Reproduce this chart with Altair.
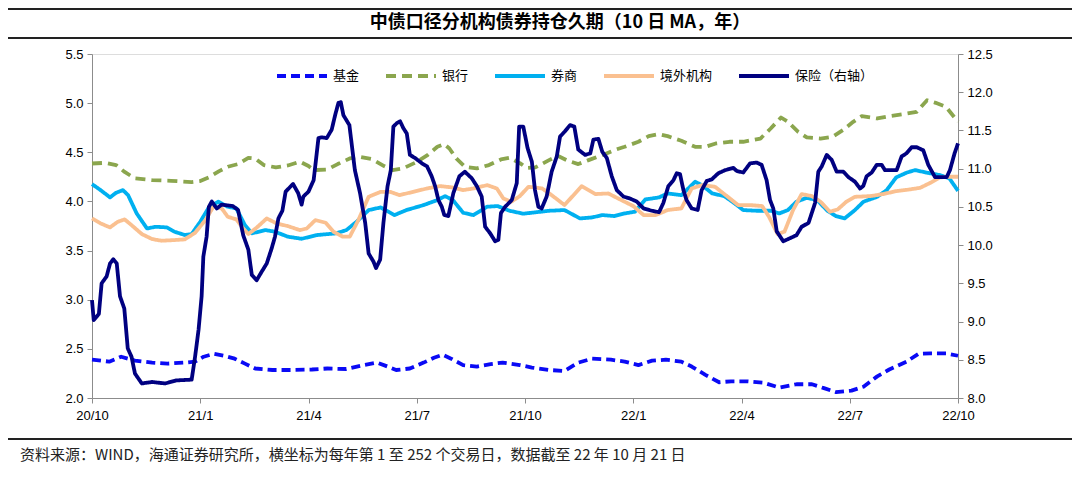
import altair as alt
import pandas as pd

# ---------------- data (x = trading-day index, 0 = 20/10 ... 504 = 22/10) ----------------
X_TICKS = [0, 63, 126, 189, 252, 315, 378, 441, 504]
X_LABELS = ["20/10", "21/1", "21/4", "21/7", "21/10", "22/1", "22/4", "22/7", "22/10"]

SERIES = ["基金", "银行", "券商", "境外机构", "保险（右轴）"]
COLORS = ["#0A0AF5", "#8BA64E", "#00B0F0", "#FAC090", "#000080"]

FUND_DAY = [0, 10, 17, 25, 35, 44, 54, 60, 65, 71, 77, 83, 89, 95, 105, 116, 128, 137, 148, 158,
            166, 172, 177, 185, 193, 199, 204, 209, 216, 224, 232, 239, 249, 256, 266, 275, 283,
            291, 302, 310, 318, 326, 334, 343, 349, 357, 365, 372, 381, 391, 400, 410, 419, 426,
            433, 442, 449, 457, 464, 474, 481, 488, 497, 504]
FUND_VAL = [2.39, 2.37, 2.42, 2.38, 2.36, 2.35, 2.36, 2.37, 2.42, 2.45, 2.43, 2.40, 2.35, 2.30,
            2.285, 2.285, 2.29, 2.30, 2.295, 2.335, 2.36, 2.32, 2.285, 2.30, 2.36, 2.41, 2.44,
            2.40, 2.335, 2.32, 2.345, 2.36, 2.335, 2.31, 2.285, 2.275, 2.36, 2.40, 2.39, 2.37,
            2.335, 2.38, 2.39, 2.37, 2.32, 2.235, 2.16, 2.17, 2.17, 2.155, 2.105, 2.14, 2.14,
            2.10, 2.06, 2.075, 2.115, 2.22, 2.29, 2.37, 2.45, 2.455, 2.455, 2.43]

BANK_DAY = [0, 8, 14, 19, 25, 35, 46, 58, 63, 68, 74, 79, 85, 91, 95, 100, 107, 114, 121, 126,
            129, 137, 143, 150, 156, 163, 170, 175, 181, 188, 195, 201, 205, 208, 212, 217, 224,
            231, 238, 243, 249, 253, 258, 266, 271, 277, 283, 289, 297, 304, 310, 318, 324, 330,
            335, 343, 351, 357, 363, 371, 379, 389, 395, 401, 405, 411, 416, 424, 431, 437, 443,
            448, 457, 464, 472, 480, 486, 491, 497, 504]
BANK_VAL = [4.386, 4.393, 4.37, 4.30, 4.234, 4.217, 4.21, 4.197, 4.207, 4.244, 4.308, 4.353,
            4.38, 4.444, 4.437, 4.37, 4.346, 4.366, 4.405, 4.36, 4.319, 4.325, 4.38, 4.437,
            4.454, 4.43, 4.36, 4.319, 4.336, 4.393, 4.468, 4.556, 4.583, 4.539, 4.437, 4.353,
            4.336, 4.37, 4.427, 4.444, 4.39, 4.34, 4.346, 4.42, 4.464, 4.414, 4.38, 4.42, 4.471,
            4.522, 4.556, 4.607, 4.664, 4.685, 4.664, 4.617, 4.556, 4.556, 4.59, 4.607, 4.607,
            4.64, 4.742, 4.854, 4.81, 4.708, 4.651, 4.64, 4.658, 4.725, 4.81, 4.868, 4.844,
            4.868, 4.888, 4.912, 5.03, 5.003, 4.963, 4.81]

BROKER_DAY = [0, 5, 10.5, 14, 18, 21, 26, 32, 37, 43.5, 48, 54, 58, 63, 68, 73.5, 79, 84, 89, 93,
              101, 106.5, 114, 122, 131, 142, 148, 154, 161, 168, 176, 183, 193, 201, 205.5, 210,
              216, 222, 230, 236, 243, 251, 256, 266, 275, 284, 291, 297, 304, 310, 316, 322,
              330, 335, 343, 351, 355, 361, 368, 374, 379, 387, 395, 400, 405, 410, 416, 422,
              428, 433, 438, 444, 449, 457, 462.5, 468, 474, 479, 486, 493.5, 499, 504]
BROKER_VAL = [4.176, 4.115, 4.041, 4.088, 4.115, 4.064, 3.878, 3.725, 3.742, 3.736, 3.692,
              3.658, 3.668, 3.793, 3.939, 3.997, 3.946, 3.929, 3.759, 3.675, 3.708, 3.692,
              3.641, 3.62, 3.658, 3.675, 3.708, 3.793, 3.912, 3.939, 3.861, 3.912, 3.963, 4.014,
              4.054, 4.014, 3.885, 3.861, 3.946, 3.953, 3.905, 3.875, 3.885, 3.905, 3.912, 3.827,
              3.837, 3.861, 3.851, 3.878, 3.895, 4.02, 4.041, 4.081, 4.064, 4.2, 4.166, 4.081,
              4.054, 3.98, 3.912, 3.905, 3.905, 3.878, 3.912, 3.997, 4.037, 4.014, 3.905, 3.851,
              3.827, 3.912, 3.997, 4.047, 4.115, 4.244, 4.292, 4.319, 4.292, 4.268, 4.234, 4.108]

FOREIGN_DAY = [0, 5, 10.5, 15, 19, 23, 29, 35, 40.5, 48, 54, 60, 66, 70.6, 75.5, 79, 84, 88, 91,
               96, 101.7, 107.5, 114, 121, 125, 130, 136, 140.5, 146, 150, 155, 161, 168, 173.5,
               179, 187, 195, 202.6, 210, 216, 222, 230, 235.6, 239.4, 244, 249, 254, 262,
               267.5, 275, 285, 293, 300.5, 308, 315, 321, 328, 335, 343, 349, 355, 362.6, 370,
               376, 383, 390, 394, 399, 403, 408, 413, 419, 424, 429.5, 434, 439, 444, 453,
               460.5, 468, 476, 482, 488, 493.5, 499, 504]
FOREIGN_VAL = [3.827, 3.776, 3.736, 3.793, 3.817, 3.759, 3.668, 3.617, 3.60, 3.607, 3.614,
               3.681, 3.81, 3.946, 3.929, 3.844, 3.817, 3.725, 3.668, 3.736, 3.827, 3.776,
               3.749, 3.708, 3.725, 3.81, 3.783, 3.692, 3.641, 3.641, 3.81, 4.047, 4.098, 4.098,
               4.064, 4.098, 4.132, 4.156, 4.142, 4.115, 4.132, 4.166, 4.132, 4.03, 3.997, 4.054,
               4.149, 4.132, 4.064, 3.963, 4.156, 4.075, 4.081, 4.014, 3.953, 3.861, 3.861,
               3.912, 3.929, 4.132, 4.166, 4.149, 4.047, 3.963, 3.963, 3.953, 3.844, 3.668,
               3.692, 3.912, 4.075, 4.054, 3.997, 3.895, 3.919, 3.997, 4.047, 4.054, 4.075,
               4.105, 4.122, 4.139, 4.19, 4.244, 4.251, 4.251]

INSUR_DAY = [0, 1, 4, 5.6, 8.5, 10.5, 12.4, 14.4, 16.3, 18.8, 20.8, 23, 25, 29, 35, 42.5, 49, 58,
             60, 62, 63.8, 64.8, 66.7, 68, 69.7, 72.6, 75.5, 82, 85, 88, 91, 93, 95.8, 98.7,
             101.7, 104.6, 106.5, 108.5, 110.8, 112.7, 117, 120, 122, 123, 126, 129, 131.8,
             133.7, 136.6, 139.5, 141.5, 143.4, 144.8, 146.3, 149.8, 151.2, 153, 156, 159, 161,
             163.8, 165.3, 167.7, 169.6, 172, 173.9, 175.4, 177.4, 179.3, 181.2, 183.2, 185,
             188, 192, 195, 197.7, 199.7, 201.6, 203.6, 205, 207.4, 210.3, 213.8, 217, 221, 224,
             226.8, 228.8, 231.7, 234.6, 236.5, 238, 240.4, 244.3, 247.2, 248.6, 251, 253.5,
             256, 257.8, 259.8, 261.7, 264.6, 267.5, 270.5, 272.4, 275.3, 278.2, 280.7, 283,
             287, 290, 291.8, 294.7, 297, 299.6, 302.5, 305.4, 309.3, 313, 317, 321, 325.7, 330,
             332.5, 335.4, 338.4, 340.3, 342.2, 344.2, 346, 349, 352.5, 354.8, 357.8, 360.7,
             364.5, 368.4, 373.3, 375.2, 379, 383, 386.8, 389.7, 392.6, 394.6, 396.5, 398.5,
             402.3, 406.2, 410, 413, 417, 420.8, 422.7, 424.7, 427.6, 430.5, 433.4, 437.3,
             440.2, 444, 447, 448.9, 450.8, 453.8, 456.7, 459.6, 461.5, 468.3, 471.2, 474, 477,
             480, 483.8, 486.7, 490.6, 497.4, 499.3, 502, 504]
INSUR_VAL = [9.28, 9.02, 9.10, 9.50, 9.59, 9.76, 9.815, 9.76, 9.33, 9.17, 8.65, 8.54, 8.32, 8.19,
             8.21, 8.19, 8.23, 8.24, 8.54, 8.89, 9.33, 9.85, 10.11, 10.50, 10.57, 10.48, 10.53,
             10.51, 10.46, 10.13, 9.94, 9.61, 9.54, 9.65, 9.76, 9.96, 10.11, 10.35, 10.45,
             10.70, 10.80, 10.68, 10.53, 10.635, 10.70, 10.85, 11.40, 11.41, 11.40, 11.51, 11.70,
             11.86, 11.87, 11.70, 11.57, 11.31, 10.98, 10.68, 10.29, 9.89, 9.785, 9.70, 9.81,
             10.29, 10.77, 10.98, 11.55, 11.595, 11.62, 11.53, 11.46, 11.18, 11.14, 11.07, 11.03,
             10.90, 10.77, 10.59, 10.50, 10.395, 10.38, 10.68, 10.90, 10.96, 10.875, 10.77,
             10.635, 10.24, 10.155, 10.05, 10.07, 10.42, 10.50, 10.59, 10.81, 11.55, 11.55,
             11.27, 11.09, 10.72, 10.50, 10.48, 10.635, 10.96, 11.16, 11.42, 11.49, 11.57, 11.55,
             11.25, 11.18, 11.20, 11.38, 11.39, 11.22, 11.14, 10.90, 10.72, 10.635, 10.61, 10.57,
             10.48, 10.45, 10.43, 10.55, 10.77, 10.85, 10.94, 10.93, 10.72, 10.59, 10.48, 10.46,
             10.72, 10.84, 10.86, 10.94, 10.98, 11.01, 10.97, 10.95, 11.07, 11.08, 11.05, 10.85,
             10.59, 10.48, 10.18, 10.05, 10.09, 10.13, 10.24, 10.29, 10.55, 10.96, 11.03, 11.18,
             11.115, 10.96, 10.96, 10.89, 10.83, 10.74, 10.775, 10.90, 10.95, 11.05, 11.05,
             10.98, 10.98, 11.16, 11.20, 11.28, 11.28, 11.24, 11.05, 10.89, 10.89, 10.98, 11.20,
             11.33]

TITLE = "中债口径分机构债券持仓久期（10 日 MA，年）"
SOURCE = "资料来源：WIND，海通证券研究所，横坐标为每年第 1 至 252 个交易日，数据截至 22 年 10 月 21 日"

# ---------------- tables ----------------
def table(name, days, vals, order):
    return pd.DataFrame({"d": days, "v": vals, "s": name, "o": order})

left_df = pd.concat([
    table(SERIES[0], FUND_DAY, FUND_VAL, 0),
    table(SERIES[1], BANK_DAY, BANK_VAL, 1),
    table(SERIES[2], BROKER_DAY, BROKER_VAL, 2),
    table(SERIES[3], FOREIGN_DAY, FOREIGN_VAL, 3),
], ignore_index=True)
right_df = table(SERIES[4], INSUR_DAY, INSUR_VAL, 4)

FONT_NUM = "Liberation Sans Narrow, Liberation Sans, Arial, sans-serif"
FONT_CJK = "Noto Sans CJK SC, sans-serif"

label_expr = "[" + ",".join("'%s'" % t for t in X_LABELS) + "][round(datum.value / 63)]"

x_enc = alt.X("d:Q", scale=alt.Scale(domain=[0, 504], nice=False, zero=False),
              axis=alt.Axis(values=X_TICKS, labelExpr=label_expr, title=None, grid=False,
                            tickSize=5, tickColor="#8c8c8c", domainColor="#8c8c8c",
                            labelColor="#000000", labelFont=FONT_NUM, labelFontSize=13,
                            labelPadding=6, labelFlush=False))

legend_kw = dict(orient="none", legendX=183, legendY=-5, direction="horizontal", title=None,
                 symbolType="stroke", symbolSize=2500, symbolStrokeWidth=4,
                 labelFont=FONT_CJK, labelFontSize=13, labelColor="#000000",
                 columnPadding=18, labelOffset=4)

color_enc = alt.Color("s:N", scale=alt.Scale(domain=SERIES, range=COLORS),
                      legend=alt.Legend(**legend_kw))
dash_enc = alt.StrokeDash("s:N", scale=alt.Scale(domain=SERIES,
                                                 range=[[9, 5], [10, 6], [1, 0], [1, 0], [1, 0]]),
                          legend=alt.Legend(**legend_kw))

left = alt.Chart(left_df).mark_line(strokeWidth=3.8, strokeCap="butt", strokeJoin="round").encode(
    x=x_enc,
    y=alt.Y("v:Q", scale=alt.Scale(domain=[2.0, 5.5], nice=False, zero=False),
            axis=alt.Axis(values=[2.0, 2.5, 3.0, 3.5, 4.0, 4.5, 5.0, 5.5], format=".1f",
                          title=None, grid=False, tickSize=5, tickColor="#8c8c8c",
                          domainColor="#8c8c8c", labelColor="#000000", labelFont=FONT_NUM,
                          labelFontSize=13, labelPadding=4)),
    color=color_enc, strokeDash=dash_enc, order="o:Q",
)

right = alt.Chart(right_df).mark_line(strokeWidth=3.8, strokeCap="butt", strokeJoin="round").encode(
    x=x_enc,
    y=alt.Y("v:Q", scale=alt.Scale(domain=[8.0, 12.5], nice=False, zero=False),
            axis=alt.Axis(orient="right", values=[8.0, 8.5, 9.0, 9.5, 10.0, 10.5, 11.0, 11.5, 12.0, 12.5],
                          format=".1f", title=None, grid=False, tickSize=5, tickColor="#8c8c8c",
                          domainColor="#8c8c8c", labelColor="#000000", labelFont=FONT_NUM,
                          labelFontSize=13, labelPadding=4)),
    color=color_enc, strokeDash=dash_enc,
)

one = pd.DataFrame({"k": [0]})
rule_top = alt.Chart(one).mark_rule(color="#222222", strokeWidth=2).encode(
    x=alt.value(-84), x2=alt.value(980), y=alt.value(-45))
rule_title = alt.Chart(one).mark_rule(color="#222222", strokeWidth=2.2).encode(
    x=alt.value(-84), x2=alt.value(980), y=alt.value(-16))
rule_foot = alt.Chart(one).mark_rule(color="#222222", strokeWidth=2).encode(
    x=alt.value(-84), x2=alt.value(980), y=alt.value(385))
title_txt = alt.Chart(one).mark_text(font=FONT_CJK, fontSize=18, fontWeight="bold",
                                     color="#000000", align="center", baseline="middle").encode(
    x=alt.value(468), y=alt.value(-31), text=alt.value(TITLE))
foot_txt = alt.Chart(one).mark_text(font=FONT_CJK, fontSize=15, color="#222222",
                                    align="left", baseline="middle").encode(
    x=alt.value(-72), y=alt.value(401), text=alt.value(SOURCE))

chart = alt.layer(left, right, rule_top, rule_title, rule_foot, title_txt, foot_txt).resolve_scale(
    y="independent"
).properties(
    width=866, height=344,
    padding={"left": 84, "top": 46, "right": 114, "bottom": 82},
    autosize=alt.AutoSizeParams(type="none"),
).configure_view(stroke=None).configure(background="#ffffff")

chart.save("out.html", embed_options={"renderer": "svg", "actions": False})
